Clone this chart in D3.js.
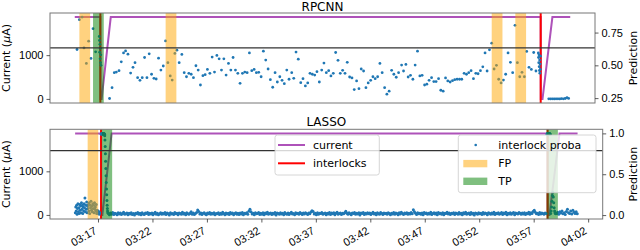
<!DOCTYPE html>
<head>
  <meta charset="utf-8">
  <style>
  body { margin: 0; background: #fff; }
  svg { font-family: "DejaVu Sans", sans-serif; font-size: 11px; }
  .frame { fill: none; stroke: #777; stroke-width: 1; }
  .tick line { stroke: #333; stroke-width: 0.8; }
  .tick text { fill: #000; }
  .xaxis .tick text { text-anchor: end; }
  </style>
  <script src="https://d3js.org/d3.v7.min.js"></script>
</head>

<body>
  <svg width="640" height="250"></svg>

  <script>

  // all times are minutes after 03:00
  var currentTimes  = [14.9, 17.28, 17.29, 17.40, 18.25, 58.28, 58.29, 58.45, 59.37, 61.03];
  var currentValues = [1870, 1870, 0, 0, 1870, 1870, 0, 0, 1870, 1870];
  var interlocks = [17.28, 58.28];
  var timeTicks = ["03:17", "03:22", "03:27", "03:32", "03:37", "03:42", "03:47", "03:52", "03:57", "04:02"];

  // RPCNN interlock probability, [minute, proba]
  var rpcnnProba = [
    [15.11,0.621],[15.33,0.848],[15.58,0.868],[15.76,0.633],[15.98,0.515],[16.19,0.684],[16.41,0.553],[16.60,0.780],[16.84,0.603],
    [17.18,0.72],[17.20,0.69],[17.22,0.60],[17.24,0.66],[17.26,0.55],[17.28,0.63],[17.30,0.52],[17.32,0.58],[17.34,0.50],
    [18.14,0.247],[18.37,0.330],[18.58,0.444],[18.77,0.449],[19.02,0.459],[19.23,0.527],[19.44,0.595],[19.63,0.610],[19.85,0.585],
    [20.10,0.441],[20.32,0.485],[20.51,0.520],[20.75,0.406],[20.97,0.386],[21.18,0.406],[21.40,0.560],[21.62,0.406],[21.83,0.588],
    [22.05,0.432],[22.27,0.401],[22.48,0.396],[22.70,0.555],[22.92,0.464],[23.14,0.495],[23.35,0.686],[23.57,0.520],[23.79,0.419],
    [23.97,0.388],[24.22,0.591],[24.41,0.616],[24.62,0.520],[24.87,0.583],[25.09,0.444],[25.30,0.413],[25.52,0.439],[25.74,0.432],
    [25.95,0.406],[26.18,0.497],[26.39,0.464],[26.60,0.350],[26.83,0.421],[27.04,0.429],[27.25,0.469],[27.48,0.439],[27.69,0.563],
    [27.91,0.449],[28.13,0.576],[28.34,0.550],[28.56,0.464],[28.78,0.550],[28.99,0.426],[29.21,0.515],[29.43,0.464],[29.64,0.560],
    [29.86,0.464],[30.08,0.439],[30.29,0.363],[30.51,0.439],[30.73,0.449],[30.95,0.444],[31.16,0.595],[31.38,0.459],[31.60,0.469],
    [31.81,0.444],[32.03,0.447],[32.25,0.413],[32.46,0.608],[32.68,0.540],[32.90,0.472],[33.11,0.391],[33.33,0.333],[33.55,0.444],
    [33.76,0.373],[33.99,0.413],[34.20,0.386],[34.41,0.360],[34.64,0.464],[34.85,0.394],[35.10,0.444],[35.29,0.401],[35.50,0.601],
    [35.71,0.547],[35.94,0.368],[36.15,0.398],[36.37,0.343],[36.59,0.366],[36.80,0.439],[37.02,0.432],[37.24,0.426],[37.45,0.452],
    [37.67,0.373],[37.89,0.464],[38.10,0.517],[38.32,0.444],[38.54,0.459],[38.75,0.419],[38.97,0.439],[39.19,0.598],[39.41,0.538],
    [39.62,0.439],[39.84,0.462],[40.06,0.439],[40.27,0.523],[40.49,0.411],[40.71,0.404],[40.92,0.315],[41.14,0.381],[41.36,0.322],
    [41.57,0.472],[41.79,0.457],[42.01,0.330],[42.22,0.366],[42.45,0.386],[42.66,0.413],[42.87,0.398],[43.10,0.413],[43.31,0.515],
    [43.52,0.444],[43.75,0.330],[43.96,0.280],[44.17,0.303],[44.40,0.462],[44.61,0.432],[44.83,0.409],[45.05,0.444],[45.33,0.502],
    [45.51,0.457],[45.73,0.507],[45.94,0.411],[46.16,0.424],[46.38,0.394],[46.59,0.502],[46.81,0.608],[47.03,0.419],[47.24,0.424],
    [47.47,0.350],[47.68,0.356],[47.89,0.386],[48.12,0.406],[48.33,0.376],[48.54,0.376],[48.77,0.398],[48.98,0.310],[49.20,0.303],
    [49.42,0.404],[49.63,0.381],[49.85,0.373],[50.07,0.383],[50.28,0.391],[50.50,0.394],[50.72,0.394],[50.93,0.394],[51.15,0.439],
    [51.37,0.432],[51.58,0.444],[51.80,0.459],[52.02,0.398],[52.24,0.439],[52.45,0.436],[52.67,0.459],[52.89,0.489],[53.10,0.595],
    [53.29,0.457],[53.51,0.618],[53.72,0.669],[53.94,0.472],[54.16,0.500],[54.37,0.394],[54.59,0.366],[54.81,0.388],[55.02,0.432],
    [55.24,0.595],[55.46,0.523],[55.67,0.444],[55.89,0.805],[56.11,0.520],[56.33,0.413],[56.54,0.447],[56.76,0.413],[56.98,0.606],
    [57.19,0.485],[57.41,0.469],[57.63,0.598],[57.84,0.457],
    [58.06,0.595],[58.08,0.56],[58.10,0.52],[58.12,0.58],[58.14,0.49],[58.16,0.46],[58.18,0.54],[58.20,0.44],[58.22,0.51],[58.24,0.47],[58.26,0.57],
    [59.03,0.245],[59.20,0.244],[59.37,0.245],[59.54,0.244],[59.71,0.245],[59.88,0.245],[60.05,0.244],[60.22,0.246],[60.39,0.245],
    [60.56,0.247],[60.73,0.253],[60.88,0.248]
  ];
  var rpcnnFP = [[15.33, 16.33], [23.36, 24.36], [53.72, 54.72], [55.92, 56.92]];
  var rpcnnTP = [[16.60, 17.60]];
  var rpcnnThreshold = 0.633;

  // LASSO interlock probability, evenly sampled runs
  var lassoPre = [0.03,0.10,0.05,0.12,0.01,0.08,0.14,0.04,0.09,0.02,0.13,0.06,0.11,0.03,0.15,0.07,0.12,0.02,0.10,0.05,
    0.14,0.09,0.21,0.04,0.12,0.07,0.16,0.03,0.11,0.08,0.13,0.05,0.15,0.02,0.12,0.09,0.17,0.06,0.11,0.04,
    0.14,0.08,0.12,0.03,0.15,0.07,0.10,0.05,0.13,0.02,0.06,0.03,0.05,0.02,0.04,0.01,0.03];
  var lassoHigh1 = [0.99,1.0,0.995,1.0,0.99,1.0,0.998,0.99,1.0,0.995,0.99];
  var lassoDrop1 = [0.97,0.92,0.84,0.75,0.66,0.57,0.48,0.40,0.32,0.25,0.18,0.12,0.08,0.05,0.03];
  var lassoQuiet = [
    0.018,0.004,0.027,0.011,0.032,0.007,0.022,0.015,0.003,0.029,0.012,0.025,0.006,0.020,0.034,0.009,0.017,0.026,0.005,0.021,
    0.013,0.030,0.008,0.019,0.002,0.024,0.016,0.033,0.010,0.023,0.004,0.028,0.014,0.007,0.026,0.018,0.031,0.006,0.022,0.012,
    0.027,0.005,0.019,0.035,0.011,0.024,0.003,0.016,0.029,0.009,0.021,0.014,0.032,0.006,0.025,0.017,0.002,0.028,0.012,0.020,
    0.008,0.031,0.015,0.023,0.004,0.026,0.018,0.010,0.034,0.013,0.022,0.005,0.029,0.016,0.009,0.024,0.040,0.011,0.027,0.006,
    0.019,0.033,0.062,0.045,0.012,0.025,0.007,0.021,0.030,0.014,0.003,0.026,0.017,0.032,0.009,0.023,0.013,0.028,0.005,0.020,
    0.015,0.030,0.006,0.024,0.011,0.035,0.018,0.003,0.027,0.013,0.022,0.008,0.031,0.016,0.025,0.004,0.019,0.029,0.010,0.023,
    0.007,0.026,0.014,0.033,0.005,0.021,0.017,0.030,0.009,0.048,0.070,0.041,0.012,0.024,0.003,0.028,0.015,0.020,0.032,0.008,
    0.022,0.011,0.029,0.004,0.025,0.016,0.034,0.010,0.019,0.027,0.006,0.023,0.013,0.031,0.002,0.026,0.018,0.009,0.028,0.014,
    0.024,0.005,0.032,0.017,0.011,0.026,0.008,0.021,0.035,0.013,0.020,0.004,0.029,0.015,0.023,0.010,0.033,0.018,0.006,0.025,
    0.012,0.030,0.019,0.007,0.027,0.016,0.038,0.052,0.044,0.014,0.022,0.005,0.028,0.011,0.024,0.018,0.031,0.009,0.020,0.026,
    0.004,0.023,0.013,0.032,0.008,0.025,0.017,0.029,0.003,0.021,0.034,0.010,0.019,0.027,0.006,0.024,0.015,0.030,0.046,0.022,
    0.011,0.028,0.016,0.005,0.026,0.019,0.033,0.009,0.023,0.014,0.030,0.002,0.025,0.018,0.031,0.007,0.021,0.012,0.028,0.016,
    0.026,0.008,0.020,0.035,0.013,0.024,0.004,0.029,0.017,0.010,0.032,0.021,0.006,0.027,0.015,0.023,0.011,0.030,0.019,0.005,
    0.022,0.014,0.031,0.009,0.025,0.018,0.003,0.028,0.012,0.034,0.020,0.007,0.026,0.016,0.029,0.010,0.024,0.013,0.033,0.017,
    0.065,0.042,0.024,0.006,0.030,0.015,0.021,0.011,0.027,0.004,0.032,0.018,0.025,0.009,0.023,0.014,0.036,0.008,0.020,0.028,
    0.013,0.026,0.005,0.031,0.017,0.022,0.010,0.029,0.003,0.024,0.019,0.034,0.012,0.027,0.007,0.021,0.015,0.030,0.006,0.025,
    0.018,0.009,0.032,0.014,0.023,0.004,0.028,0.016,0.035,0.011,0.020,0.026,0.008,0.031,0.013,0.024,0.002,0.027,0.019,0.010,
    0.029,0.015,0.022,0.006,0.033,0.012,0.025,0.018,0.003,0.030,0.021,0.009,0.027,0.014,0.034,0.007,0.023,0.017,0.028,0.011,
    0.020,0.032,0.008,0.026,0.016,0.035,0.005,0.024,0.013,0.029,0.010,0.022,0.031,0.004,0.027,0.018,0.012,0.033,0.021,0.009,
    0.025,0.014,0.030,0.007,0.023,0.017,0.034,0.011,0.028,0.019,0.044,0.060,0.036,0.016,0.024,0.006,0.031,0.013,0.026,0.020,
    0.010,0.027,0.018
  ];
  var lassoHigh2 = [0.99,1.0,0.995,1.0,0.99,1.0,0.998,0.99,1.0,0.995,0.99];
  var lassoSpike2 = [0.02,0.05,0.10,0.17,0.24,0.28,0.22,0.15,0.09,0.05,0.03,0.02,0.015];
  var lassoTail = [0.02,0.035,0.01,0.04,0.025,0.05,0.015,0.03,0.008,0.045,0.07,0.03,0.02,0.05,0.012,0.06,0.035,0.02,0.04,0.015];
  // first minute and sampling step (minutes) of each run
  var lassoRunStart = [14.92, 17.30, 17.62, 17.95, 58.22, 58.56, 59.10];
  var lassoRunStep  = [0.04, 0.03, 0.02, 0.1, 0.03, 0.04, 0.1];
  var lassoFP = [[16.05, 17.02]];
  var lassoTP = [[17.35, 18.30], [58.18, 59.22]];
  var lassoThreshold = 0.79;

  var lassoProba = [];
  [lassoPre, lassoHigh1, lassoDrop1, lassoQuiet, lassoHigh2, lassoSpike2, lassoTail].forEach(function(run, k) {
    run.forEach(function(v, i) { lassoProba.push([lassoRunStart[k] + i * lassoRunStep[k], v]); });
  });

  var svg = d3.select("svg");
  var base = d3.timeParse("%H:%M")("03:00");
  function toDate(m) { return new Date(base.getTime() + m * 60000); }
  function pad(ext) { var d = (ext[1] - ext[0]) * 0.05; return [ext[0] - d, ext[1] + d]; }

  var current = currentTimes.map(function(t, i) { return [t, currentValues[i]]; });
  var xDomain = pad(d3.extent(currentTimes.concat(rpcnnProba.map(function(d) { return d[0]; }),
                                                  lassoProba.map(function(d) { return d[0]; })))).map(toDate);

  var purple = "#ae52b9";

  function drawPanel(o) {
    var g = svg.append("g");
    var x = d3.scaleTime().domain(xDomain).range([o.left, o.right]);
    var yC = d3.scaleLinear().domain(pad(d3.extent(currentValues))).range([o.bottom, o.top]);
    var yP = d3.scaleLinear().domain(pad(d3.extent(o.proba, function(d) { return d[1]; }))).range([o.bottom, o.top]);

    g.append("clipPath").attr("id", o.id)
      .append("rect").attr("x", o.left).attr("y", o.top)
      .attr("width", o.right - o.left).attr("height", o.bottom - o.top);
    var plot = g.append("g").attr("clip-path", "url(#" + o.id + ")");

    plot.append("path")
      .datum(current)
      .attr("fill", "none")
      .attr("stroke", purple)
      .attr("stroke-width", 2)
      .attr("d", d3.line().x(function(d) { return x(toDate(d[0])); }).y(function(d) { return yC(d[1]); }));

    plot.selectAll(".interlock")
      .data(interlocks)
      .enter().append("line")
      .attr("x1", function(d) { return x(toDate(d)); })
      .attr("x2", function(d) { return x(toDate(d)); })
      .attr("y1", o.top).attr("y2", o.bottom)
      .attr("stroke", "#ff0000").attr("stroke-width", 2);

    plot.selectAll(".pt")
      .data(o.proba)
      .enter().append("circle")
      .attr("cx", function(d) { return x(toDate(d[0])); })
      .attr("cy", function(d) { return yP(d[1]); })
      .attr("r", o.r)
      .attr("fill", "#1f77b4");

    function bands(data, color) {
      plot.append("g").selectAll("rect")
        .data(data)
        .enter().append("rect")
        .attr("x", function(d) { return x(toDate(d[0])); })
        .attr("width", function(d) { return x(toDate(d[1])) - x(toDate(d[0])); })
        .attr("y", o.top).attr("height", o.bottom - o.top)
        .attr("fill", color).attr("fill-opacity", 0.5);
    }
    bands(o.fp, "#ffa500");
    bands(o.tp, "#008000");

    plot.append("line")
      .attr("x1", o.left).attr("x2", o.right)
      .attr("y1", yP(o.threshold)).attr("y2", yP(o.threshold))
      .attr("stroke", "#333").attr("stroke-width", 1.3);

    g.append("rect").attr("class", "frame")
      .attr("x", o.left).attr("y", o.top)
      .attr("width", o.right - o.left).attr("height", o.bottom - o.top);

    g.append("g")
      .attr("transform", "translate(" + o.left + ",0)")
      .call(d3.axisLeft(yC).tickValues([0, 1000]).tickFormat(d3.format("d")).tickSize(3.5).tickPadding(3))
      .call(function(a) { a.select(".domain").remove(); a.selectAll("text").style("font-size", "11px"); });

    g.append("g")
      .attr("transform", "translate(" + o.right + ",0)")
      .call(d3.axisRight(yP).tickValues(o.pTicks).tickFormat(d3.format(o.pFormat)).tickSize(3.5).tickPadding(3))
      .call(function(a) { a.select(".domain").remove(); a.selectAll("text").style("font-size", "11px"); });

    if (o.xLabels) {
      g.append("g")
        .attr("class", "xaxis")
        .attr("transform", "translate(0," + o.bottom + ")")
        .call(d3.axisBottom(x).tickValues(timeTicks.map(d3.timeParse("%H:%M"))).tickFormat(d3.timeFormat("%H:%M")).tickSize(3.5))
        .call(function(a) {
          a.select(".domain").remove();
          a.selectAll("text")
            .style("font-size", "11px")
            .style("text-anchor", "end")
            .attr("x", 0).attr("y", 0).attr("dy", null)
            .attr("transform", "translate(-1,14) rotate(-30)");
        });
    }

    g.append("text")
      .attr("x", (o.left + o.right) / 2).attr("y", o.titleY)
      .attr("text-anchor", "middle")
      .style("font-size", "12px")
      .text(o.title);

    var cy = (o.top + o.bottom) / 2;
    var yl = g.append("text")
      .attr("transform", "translate(9.5," + cy + ") rotate(-90)")
      .attr("text-anchor", "middle");
    yl.append("tspan").text("Current (");
    yl.append("tspan").style("font-style", "italic").text("\u03bc");
    yl.append("tspan").text("A)");

    g.append("text")
      .attr("transform", "translate(637," + cy + ") rotate(-90)")
      .attr("text-anchor", "middle")
      .text("Prediction");

    return g;
  }

  drawPanel({
    id: "clipTop", title: "RPCNN", titleY: 10.5,
    left: 50, right: 595, top: 13, bottom: 103,
    proba: rpcnnProba, fp: rpcnnFP, tp: rpcnnTP, threshold: rpcnnThreshold,
    pTicks: [0.25, 0.5, 0.75], pFormat: ".2f", r: 1.4, xLabels: false
  });

  var lower = drawPanel({
    id: "clipBottom", title: "LASSO", titleY: 125.5,
    left: 50, right: 602.7, top: 129.3, bottom: 219,
    proba: lassoProba, fp: lassoFP, tp: lassoTP, threshold: lassoThreshold,
    pTicks: [0, 0.5, 1], pFormat: ".1f", r: 1.5, xLabels: true
  });

  // legends
  function legendBox(x0, y0, w, h) {
    lower.append("rect")
      .attr("x", x0).attr("y", y0).attr("width", w).attr("height", h)
      .attr("rx", 2.5)
      .attr("fill", "#fff").attr("fill-opacity", 0.8)
      .attr("stroke", "#ccc").attr("stroke-width", 0.8);
  }

  legendBox(275, 135, 104.3, 40);
  [["current", purple, 145], ["interlocks", "#ff0000", 163.3]].forEach(function(e) {
    lower.append("line")
      .attr("x1", 278).attr("x2", 305).attr("y1", e[2]).attr("y2", e[2])
      .attr("stroke", e[1]).attr("stroke-width", 2);
    lower.append("text").attr("x", 313).attr("y", e[2]).attr("dy", "0.35em").text(e[0]);
  });

  legendBox(458.3, 135, 137.7, 57.7);
  lower.append("circle").attr("cx", 475.7).attr("cy", 145).attr("r", 1.3).attr("fill", "#1f77b4");
  lower.append("text").attr("x", 498.3).attr("y", 145).attr("dy", "0.35em").text("interlock proba");
  [["FP", "#ffa500", 163.6], ["TP", "#008000", 181.3]].forEach(function(e) {
    lower.append("rect")
      .attr("x", 463.3).attr("y", e[2] - 3.7).attr("width", 24).attr("height", 7.4)
      .attr("fill", e[1]).attr("fill-opacity", 0.5);
    lower.append("text").attr("x", 498.3).attr("y", e[2]).attr("dy", "0.35em").text(e[0]);
  });

  </script>
</body>
